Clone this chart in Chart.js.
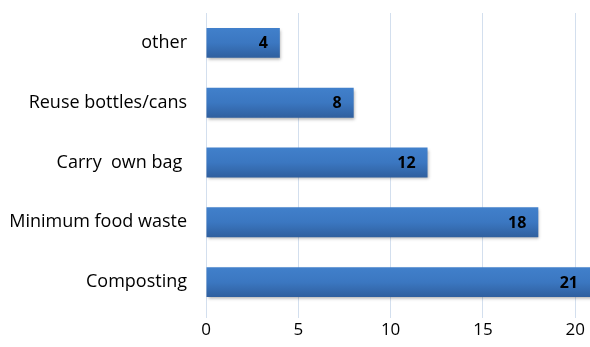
<!DOCTYPE html>
<html>
<head>
<meta charset="utf-8">
<script src="https://cdn.jsdelivr.net/npm/chart.js@4/dist/chart.umd.min.js"></script>
<style>
  html, body { margin: 0; padding: 0; background: #fff; }
  #wrap { width: 590px; height: 347px; }
</style>
</head>
<body>
<div id="wrap"><canvas id="c" width="590" height="347"></canvas></div>
<script>
// 데이터
const categories = ['other', 'Reuse bottles/cans', 'Carry  own bag ', 'Minimum food waste', 'Composting'];
const counts = [4, 8, 12, 18, 21];
const xTicks = [0, 5, 10, 15, 20];

const FONT = '"Open Sans", "DejaVu Sans", sans-serif';

// 막대 끝 안쪽 값 표시
const valueLabels = {
  id: 'valueLabels',
  afterDatasetsDraw(chart) {
    const ctx = chart.ctx;
    const meta = chart.getDatasetMeta(0);
    ctx.save();
    ctx.font = 'bold 16px ' + FONT;
    ctx.fillStyle = '#000';
    ctx.textAlign = 'right';
    ctx.textBaseline = 'middle';
    meta.data.forEach((bar, i) => {
      const x = Math.min(bar.x, chart.chartArea.right) - 12;
      ctx.fillText(String(counts[i]), x, bar.y + 1);
    });
    ctx.restore();
  },
};

// 막대 그림자
const barShadow = {
  id: 'barShadow',
  beforeDatasetsDraw(chart) {
    const ctx = chart.ctx;
    ctx.save();
    ctx.shadowColor = 'rgba(0,0,0,.3)';
    ctx.shadowBlur = 3;
    ctx.shadowOffsetX = 1;
    ctx.shadowOffsetY = 2;
  },
  afterDatasetsDraw(chart) {
    chart.ctx.restore();
  },
};

// 위->아래 그라데이션
const barFill = (c) => {
  const y = c.chart.scales && c.chart.scales.y;
  if (!y || c.dataIndex === undefined) return '#3d78bf';
  const cy = y.getPixelForValue(c.dataIndex);
  if (!isFinite(cy)) return '#3d78bf';
  const g = c.chart.ctx.createLinearGradient(0, cy - 15, 0, cy + 15);
  g.addColorStop(0, '#4180cb');
  g.addColorStop(0.5, '#3b77c1');
  g.addColorStop(1, '#2f5f9e');
  return g;
};

new Chart(document.getElementById('c').getContext('2d'), {
  type: 'bar',
  data: {
    labels: categories,
    datasets: [{
      data: counts,
      backgroundColor: barFill,
      borderWidth: 0,
      barPercentage: 0.5,
      categoryPercentage: 1,
    }],
  },
  options: {
    indexAxis: 'y',
    responsive: false,
    animation: false,
    layout: { padding: { top: 13, right: 0, left: 0, bottom: 0 } },
    plugins: {
      legend: { display: false },
      tooltip: { enabled: false },
    },
    scales: {
      x: {
        min: 0,
        max: 20.8,
        afterBuildTicks: (axis) => { axis.ticks = xTicks.map((v) => ({ value: v })); },
        afterFit: (axis) => { axis.height = 35; },
        border: { display: false },
        grid: { color: '#d3dfee', lineWidth: 1, drawTicks: true, tickLength: 6, tickColor: '#d3dfee' },
        ticks: { color: '#000', font: { family: FONT, size: 17 }, padding: 2 },
      },
      y: {
        afterFit: (axis) => {
          axis.width = 206;
          axis.paddingTop = 0;
          axis.paddingBottom = 0;
        },
        border: { display: false },
        grid: { display: false, drawTicks: false },
        ticks: { color: '#000', font: { family: FONT, size: 18 }, padding: 19 },
      },
    },
  },
  plugins: [barShadow, valueLabels],
});
</script>
</body>
</html>
